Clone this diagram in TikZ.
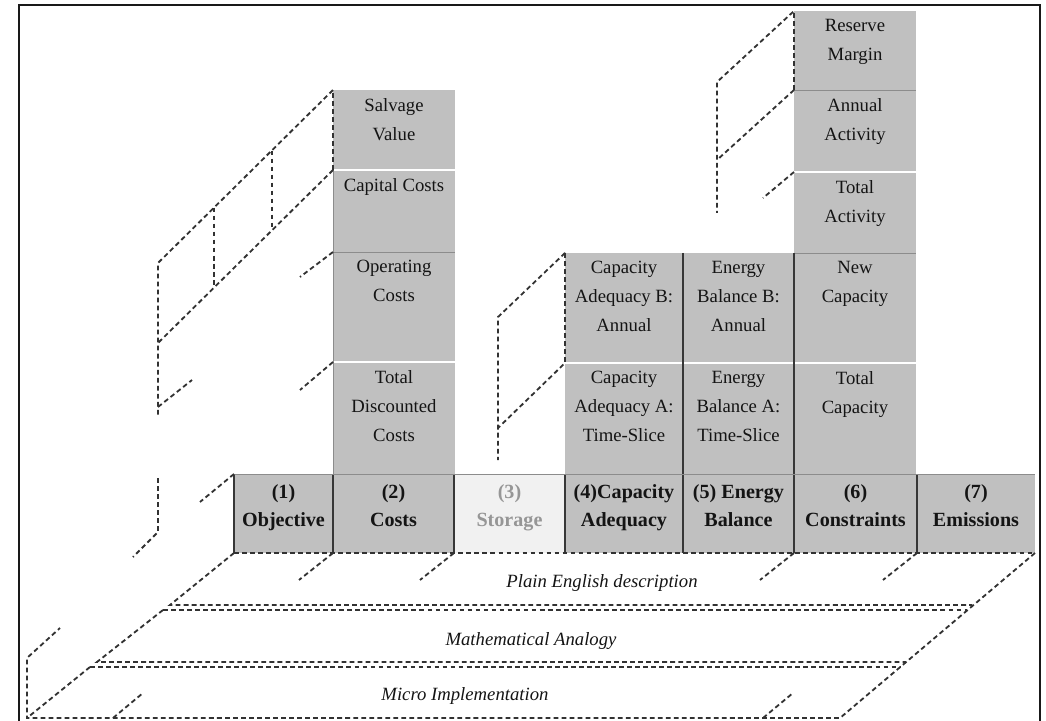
\documentclass[tikz,border=0pt]{standalone}
\usepackage{fontspec}
\setmainfont{Liberation Serif}
\usetikzlibrary{calc}
\definecolor{boxgray}{RGB}{192,192,192}
\definecolor{storefill}{RGB}{241,241,241}
\definecolor{storetext}{RGB}{150,150,150}
\definecolor{textdark}{RGB}{20,20,20}
\definecolor{dashgray}{RGB}{50,50,50}
\definecolor{edgegray}{RGB}{55,55,55}
\definecolor{sepgray}{RGB}{140,140,140}
\newcommand{\pxl}{0.025cm}
\tikzset{
  cellbox/.style={anchor=north west,inner sep=0pt,outer sep=0pt},
  celltext/.style={anchor=north,inner sep=0pt,align=center,text=textdark,font=\fontsize{13.3}{20.6}\selectfont},
  rowtext/.style={anchor=north,inner sep=0pt,align=center,font=\fontsize{14.3}{20}\selectfont\bfseries},
  layertext/.style={inner sep=0pt,text=textdark,font=\fontsize{13.3}{15}\selectfont\itshape},
  hid/.style={draw=dashgray,line width=1.3pt,dash pattern=on 3.4pt off 2.3pt},
  whitesep/.style={draw=white,line width=1.3pt},
  sepline/.style={draw=sepgray,line width=0.7pt},
  celledge/.style={draw=edgegray,line width=0.9pt}
}
\begin{document}
\begin{tikzpicture}[x=\pxl,y=-\pxl]
\useasboundingbox (0,0) rectangle (1046,721);
% stacked sub-blocks
\foreach \nm/\x/\y/\w/\h/\txt in {
  salv/333/90/122/80/{Salvage\\Value},
  capc/333/170/122/82/{Capital Costs},
  oper/333/252/122/110/{Operating\\Costs},
  totd/333/362/122/112/{Total\\Discounted\\Costs},
  capb/565/253/118/110/{Capacity\\Adequacy B:\\Annual},
  capa/565/363/118/111/{Capacity\\Adequacy A:\\Time-Slice},
  enb/683/253/111/110/{Energy\\Balance B:\\Annual},
  ena/683/363/111/111/{Energy\\Balance A:\\Time-Slice},
  resm/794/11/122/79/{Reserve\\Margin},
  annact/794/90/122/82/{Annual\\Activity},
  totact/794/172/122/81/{Total\\Activity},
  newcap/794/253/122/110/{New\\Capacity},
  totcap/794/363/122/111/{Total\\Capacity}}
{\node[cellbox,fill=boxgray,minimum width=\w*\pxl,minimum height=\h*\pxl] (\nm) at (\x,\y) {};
 \node[celltext,below=0.2cm] (\nm-t) at (\nm.north) {\txt};}
\foreach \a in {salv,oper,capb,enb,annact,newcap}
  \draw[whitesep] (\a.south west) -- (\a.south east);
\foreach \a in {capc,resm,totact}
  \draw[sepline] (\a.south west) -- (\a.south east);
\draw[sepline] (capc.north west) -- (totd.south west);
\draw[celledge] (capb.north east) -- (capa.south east);
\draw[celledge] (enb.north east) -- (ena.south east);
% model blocks
\foreach \nm/\x/\w/\fc/\tc/\txt in {
  obj/234/99/boxgray/textdark/{(1)\\Objective},
  cost/333/121/boxgray/textdark/{(2)\\Costs},
  stor/454/111/storefill/storetext/{(3)\\Storage},
  capad/565/118/boxgray/textdark/{(4)Capacity\\Adequacy},
  enbal/683/111/boxgray/textdark/{(5) Energy\\Balance},
  cons/794/123/boxgray/textdark/{(6)\\Constraints},
  emis/917/118/boxgray/textdark/{(7)\\Emissions}}
{\node[cellbox,fill=\fc,minimum width=\w*\pxl,minimum height=79*\pxl] (\nm) at (\x,474) {};
 \node[rowtext,text=\tc,below=0.25cm] (\nm-t) at (\nm.north) {\txt};
 \draw[celledge] (\nm.north west) -- (\nm.south west);}
\draw[sepline] (obj.north west) -- (emis.north east);
% hidden edges behind the costs
\coordinate (ca) at (158,263);
\coordinate (cb) at (158,343);
\draw[hid] (salv.south west) -- (salv.north west) -- (ca) -- (158,417);
\draw[hid] (salv.south west) -- (cb);
\foreach \t in {0.35,0.68}
  \draw[hid] ($(salv.north west)!\t!(ca)$) -- ($(salv.south west)!\t!(cb)$);
\draw[hid] (158,407) -- ++(34,-27);
\draw[hid] (158,478) -- (158,532) -- (133,557);
\draw[hid] (capc.south west) -- ++(-33,25);
\draw[hid] (oper.south west) -- ++(-33,28);
\draw[hid] (obj.north west) -- ++(-34,28);
% storage
\coordinate (sa) at (498,317);
\coordinate (sb) at (498,428);
\draw[hid] (capb.north west) -- (sa) -- (498,460);
\draw[hid] (capb.north west) -- (capa.north west) -- (sb);
% constraints
\coordinate (ra) at (717,82);
\coordinate (rb) at (717,160);
\draw[hid] (resm.south west) -- (resm.north west) -- (ra) -- (717,213);
\draw[hid] (resm.south west) -- (rb);
\draw[hid] (totact.north west) -- ++(-31,26);
% description layers
\draw[hid] (obj.south west) -- (emis.south east);
\draw[hid] (obj.south west) -- (170,605) -- (972,605);
\draw[hid] (emis.south east) -- (840,718) -- (27,718) -- (27,658) -- ++(33,-30);
\draw[hid] (163,610) -- (967,610);
\draw[hid] (163,610) -- (97,662) -- (906,662);
\draw[hid] (90,667) -- (900,667);
\draw[hid] (90,667) -- (27,718);
\foreach \c in {cost,stor,cons,emis}
  \draw[hid] (\c.south west) -- ++(-34,27);
\draw[hid] (113,718) -- ++(30,-25);
\draw[hid] (763,718) -- ++(30,-25);
\node[layertext] (plain) at (602,583) {Plain English description};
\node[layertext] (math) at (531,641) {Mathematical Analogy};
\node[layertext] (micro) at (465,696) {Micro Implementation};
% frame
\draw[line width=2pt,black!90] (19,721) -- (19,5) -- (1040,5) -- (1040,721);
\end{tikzpicture}
\end{document}
